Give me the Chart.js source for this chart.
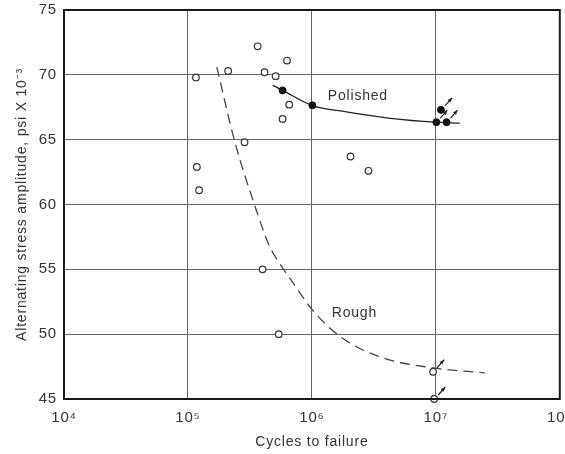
<!DOCTYPE html>
<html>
<head>
<meta charset="utf-8">
<script src="https://cdn.jsdelivr.net/npm/chart.js@4.4.0/dist/chart.umd.min.js"></script>
<style>
  html, body { margin: 0; padding: 0; background: #fff; overflow: hidden; }
  #wrap { width: 565px; height: 454px; }
</style>
</head>
<body>
<div id="wrap"><canvas id="snChart"></canvas></div>
<script>
// cycles to failure vs stress amplitude (psi x 10^-3)
const openX = [1.16e5, 2.11e5, 3.65e5, 4.15e5, 5.1e5, 2.86e5, 1.18e5, 1.23e5, 6.3e5, 6.56e5, 5.8e5, 2.05e6, 2.86e6, 4.0e5, 5.4e5, 9.5e6, 9.7e6];
const openY = [69.8, 70.3, 72.2, 70.2, 69.9, 64.8, 62.9, 61.1, 71.1, 67.7, 66.6, 63.7, 62.6, 55.0, 50.0, 47.1, 45.0];
const openRunout = [false, false, false, false, false, false, false, false, false, false, false, false, false, false, false, true, true];

const filledX = [5.8e5, 1.01e6, 1.01e7, 1.22e7, 1.1e7];
const filledY = [68.8, 67.65, 66.35, 66.35, 67.3];
const filledRunout = [false, false, true, true, true];

// faired curves
const polishedCurveX = [4.82e5, 5.8e5, 1.0e6, 1.9e6, 4.3e6, 1.0e7, 1.56e7];
const polishedCurveY = [69.2, 68.8, 67.65, 67.15, 66.65, 66.35, 66.28];
const roughCurveX = [1.71e5, 2.39e5, 3.47e5, 4.5e5, 5.52e5, 6.78e5, 1.04e6, 1.71e6, 3.53e6, 9.46e6, 2.48e7];
const roughCurveY = [70.6, 64.82, 59.89, 56.88, 55.42, 54.18, 51.72, 49.79, 48.25, 47.4, 47.01];

const xTicks = [1e4, 1e5, 1e6, 1e7, 1e8];
const xTickLabels = ['10\u2074', '10\u2075', '10\u2076', '10\u2077', '10\u2078'];
const yMin = 45, yMax = 75, yStep = 5;

const pts = (xs, ys) => xs.map((v, i) => ({ x: v, y: ys[i] }));

Chart.defaults.font.family = '"Liberation Sans", Arial, sans-serif';
Chart.defaults.color = '#333';

function arrow(ctx, px, py) {
    const x0 = px + 4, y0 = py - 4, x1 = px + 11, y1 = py - 12;
    const a = Math.atan2(y1 - y0, x1 - x0);
    ctx.beginPath();
    ctx.moveTo(x0, y0);
    ctx.lineTo(x1, y1);
    ctx.stroke();
    ctx.beginPath();
    ctx.moveTo(x1, y1);
    ctx.lineTo(x1 - 5 * Math.cos(a - 0.4), y1 - 5 * Math.sin(a - 0.4));
    ctx.lineTo(x1 - 5 * Math.cos(a + 0.4), y1 - 5 * Math.sin(a + 0.4));
    ctx.closePath();
    ctx.fill();
}

const extras = {
    id: 'extras',
    beforeDraw(chart) {
        chart.ctx.letterSpacing = '0.8px';
    },
    afterDatasetsDraw(chart) {
        const { ctx, scales: { x, y } } = chart;
        ctx.save();
        ctx.strokeStyle = '#222';
        ctx.fillStyle = '#222';
        ctx.lineWidth = 1.2;
        openX.forEach((v, i) => { if (openRunout[i]) arrow(ctx, x.getPixelForValue(v), y.getPixelForValue(openY[i])); });
        filledX.forEach((v, i) => { if (filledRunout[i]) arrow(ctx, x.getPixelForValue(v), y.getPixelForValue(filledY[i])); });

        ctx.font = '14px "Liberation Sans", Arial, sans-serif';
        ctx.fillStyle = '#333';
        ctx.textAlign = 'center';
        ctx.textBaseline = 'middle';
        ctx.fillText('Polished', x.getPixelForValue(2.35e6), y.getPixelForValue(68.37));
        ctx.fillText('Rough', x.getPixelForValue(2.2e6), y.getPixelForValue(51.66));
        ctx.restore();
    },
    afterDraw(chart) {
        const { ctx, chartArea: a } = chart;
        ctx.save();
        ctx.strokeStyle = '#1a1a1a';
        ctx.lineWidth = 2;
        ctx.strokeRect(a.left, a.top, a.right - a.left, a.bottom - a.top);
        ctx.restore();
    }
};

new Chart(document.getElementById('snChart'), {
    type: 'scatter',
    data: {
        datasets: [{
            label: 'open',
            data: pts(openX, openY),
            pointRadius: 3.3,
            pointBackgroundColor: '#fff',
            pointBorderColor: '#333',
            pointBorderWidth: 1.2,
            clip: false
        }, {
            label: 'filled',
            data: pts(filledX, filledY),
            pointRadius: 3.5,
            pointBackgroundColor: '#111',
            pointBorderColor: '#111',
            pointBorderWidth: 1,
            clip: false
        }, {
            label: 'Polished',
            type: 'line',
            data: pts(polishedCurveX, polishedCurveY),
            borderColor: '#222',
            borderWidth: 1.3,
            pointRadius: 0,
            cubicInterpolationMode: 'monotone',
            fill: false
        }, {
            label: 'Rough',
            type: 'line',
            data: pts(roughCurveX, roughCurveY),
            borderColor: '#444',
            borderWidth: 1.3,
            borderDash: [10, 6],
            pointRadius: 0,
            cubicInterpolationMode: 'monotone',
            fill: false
        }]
    },
    options: {
        responsive: true,
        maintainAspectRatio: false,
        animation: false,
        layout: { padding: { top: 10, right: 5, left: 0, bottom: 0 } },
        plugins: {
            legend: { display: false },
            tooltip: { enabled: false }
        },
        scales: {
            x: {
                type: 'logarithmic',
                min: 1e4,
                max: 1e8,
                afterBuildTicks: s => { s.ticks = xTicks.map(v => ({ value: v })); },
                afterFit: s => { s.height = 55; s.paddingLeft = 0; s.paddingRight = 0; },
                ticks: {
                    callback: (v, i) => xTickLabels[i],
                    font: { size: 15 },
                    color: '#333',
                    padding: 10,
                    maxRotation: 0,
                    autoSkip: false
                },
                grid: { color: '#666', lineWidth: 1, drawTicks: false },
                border: { display: false },
                title: {
                    display: true,
                    text: 'Cycles to failure',
                    font: { size: 14 },
                    color: '#333',
                    padding: { top: 0, bottom: 3 }
                }
            },
            y: {
                min: yMin,
                max: yMax,
                afterFit: s => { s.width = 64; s.paddingTop = 0; s.paddingBottom = 0; },
                ticks: {
                    stepSize: yStep,
                    font: { size: 15 },
                    color: '#333',
                    padding: 7
                },
                grid: { color: '#666', lineWidth: 1, drawTicks: false },
                border: { display: false },
                title: {
                    display: true,
                    text: 'Alternating stress amplitude, psi X 10\u207B\u00B3',
                    font: { size: 14 },
                    color: '#333',
                    padding: { top: 14, bottom: 0 }
                }
            }
        }
    },
    plugins: [extras]
});
</script>
</body>
</html>
